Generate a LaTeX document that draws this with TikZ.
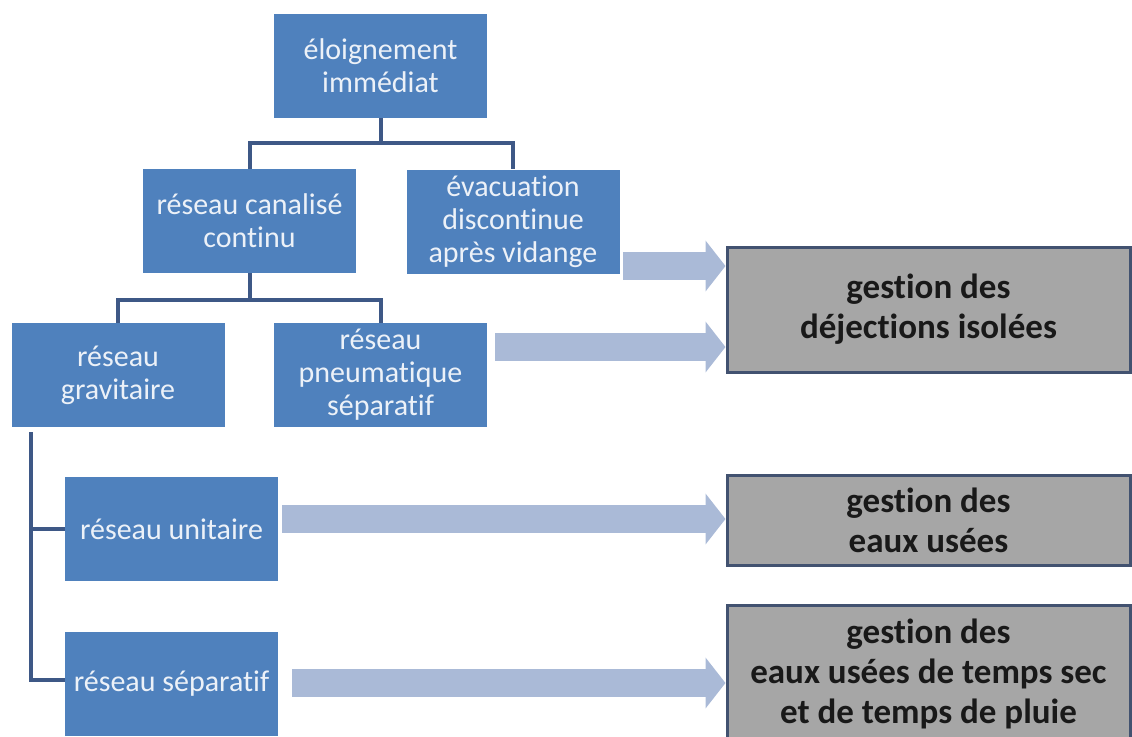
\documentclass[tikz,border=0pt]{standalone}
\usepackage{fontspec}
\setmainfont{Carlito}[Ligatures=NoCommon]
\usetikzlibrary{arrows.meta}
\definecolor{boiteblue}{RGB}{79,129,189}
\definecolor{textblue}{RGB}{236,241,248}
\definecolor{lienblue}{RGB}{62,88,134}
\definecolor{flecheblue}{RGB}{170,186,215}
\definecolor{boitegris}{RGB}{166,166,166}
\definecolor{bordgris}{RGB}{66,82,112}
\begin{document}
\begin{tikzpicture}[x=0.5pt,y=-0.5pt,
    bleu/.style={fill=boiteblue, text=textblue, align=center, inner sep=0pt,
        minimum width=106.5pt, minimum height=52pt,
        font=\fontsize{15}{16.5}\selectfont},
    gris/.style={fill=boitegris, draw=bordgris, line width=1.5pt, text=black!90,
        align=center, inner sep=0pt, minimum width=201.5pt,
        font=\fontsize{17.5}{20}\selectfont\bfseries},
    lien/.style={draw=lienblue, line width=2pt},
    fleche/.style={draw=flecheblue, line width=14pt, -{Triangle[length=10pt,width=25pt]}}]
\useasboundingbox (0,0) rectangle (1132,736);
    \node[bleu] (eloign) at (380.5,66) {éloignement\\immédiat};
    \node[bleu] (canal) at (249.5,221) {réseau canalisé\\continu};
    \node[bleu] (evac) at (513,221.5) {évacuation\\discontinue\\après vidange};
    \node[bleu] (grav) at (118,375) {réseau\\gravitaire};
    \node[bleu] (pneu) at (380.5,375) {réseau\\pneumatique\\séparatif};
    \node[bleu] (unit) at (171.5,529) {réseau unitaire};
    \node[bleu] (sepa) at (171.5,684) {réseau séparatif};
    \node[gris, minimum height=62.5pt] (dej) at (928.5,309.5) {gestion des\\déjections isolées};
    \node[gris, minimum height=45pt] (eaux) at (928.5,520) {gestion des\\eaux usées};
    \node[gris, minimum height=68.5pt] (pluie) at (928.5,673.5) {gestion des\\eaux usées de temps sec\\et de temps de pluie};
        \draw[lien] (eloign.south) -- ++(0,25) -| (canal.north);
        \draw[lien] (eloign.south) -- ++(0,25) -| (evac.north);
        \draw[lien] (canal.south) -- ++(0,27) -| (grav.north);
        \draw[lien] (canal.south) -- ++(0,27) -| (pneu.north);
        \draw[lien] ([xshift=10pt,yshift=-2.5pt]grav.south west) |- (unit.west);
        \draw[lien] ([xshift=10pt,yshift=-2.5pt]grav.south west) |- ([yshift=2pt]sepa.west);
\foreach \a/\b/\y/\g in {evac/dej/266/1.5pt, pneu/dej/347/4pt, unit/eaux/519/2pt, sepa/pluie/683/7pt}
    \draw[fleche] ([xshift=\g]\a.east |- 0,\y) -- (\b.west |- 0,\y);
    \end{tikzpicture}
\end{document}
